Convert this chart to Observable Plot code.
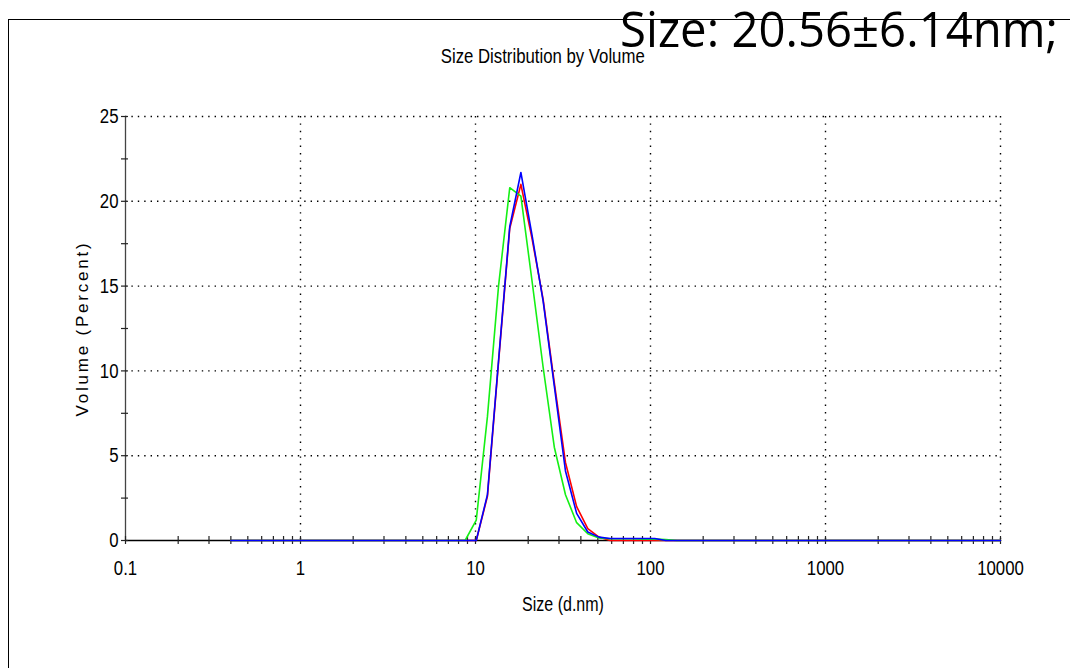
<!DOCTYPE html>
<html><head><meta charset="utf-8">
<script src="https://cdn.jsdelivr.net/npm/d3@7"></script>
<script src="https://cdn.jsdelivr.net/npm/@observablehq/plot@0.6"></script>
<style>
body{margin:0;background:#fff;}
#page{position:relative;width:1070px;height:668px;overflow:hidden;background:#fff;font-family:"Liberation Sans",Arial,sans-serif;}
#frameTop{position:absolute;left:8px;top:19px;width:1062px;height:0;border-top:1.5px solid #000;}
#frameLeft{position:absolute;left:8px;top:20px;width:0;height:648px;border-left:1px solid #000;}
#big{position:absolute;left:620px;top:3px;font-family:"Open Sans","Noto Sans",sans-serif;font-size:50px;line-height:1;white-space:nowrap;transform-origin:0 0;color:#000;}
#title{position:absolute;left:0;width:1086px;top:44px;text-align:center;font-size:20px;color:#000;line-height:1.2;}
#title span{display:inline-block;transform-origin:50% 50%;}
#chart{position:absolute;left:0;top:96px;}
</style></head>
<body>
<div id="page">
  <div id="frameTop"></div>
  <div id="frameLeft"></div>
  <div id="title"><span>Size Distribution by Volume</span></div>
  <div id="chart"></div>
  <div id="big">Size: 20.56±6.14nm;</div>
</div>
<script>
// Size bins (d.nm)
const sizes = [0.4, 0.4632, 0.5365, 0.6213, 0.7195, 0.8332, 0.9649, 1.117, 1.294, 1.499,
  1.736, 2.010, 2.328, 2.696, 3.122, 3.615, 4.187, 4.849, 5.615, 6.503,
  7.531, 8.721, 10.10, 11.70, 13.54, 15.69, 18.17, 21.04, 24.36, 28.21,
  32.67, 37.84, 43.82, 50.75, 58.77, 68.06, 78.82, 91.28, 105.7, 122.4,
  141.8, 164.2, 190.1, 220.2, 255.0, 295.3, 342.0, 396.1, 458.7, 531.2,
  615.1, 712.4, 825.0, 955.4, 1106, 1281, 1484, 1718, 1990, 2305,
  2669, 3091, 3580, 4145, 4801, 5560, 6439, 7456, 8635, 10000];
// Volume (%) per bin, three measurements
const redValues = [0,0,0,0,0,0,0,0,0,0, 0,0,0,0,0,0,0,0,0,0,
  0,0,0,2.6,10.5,18.4,21.0,17.8,14.2,9.3,
  4.6,2.0,0.7,0.2,0,0,0,0,0,0,
  0,0,0,0,0,0,0,0,0,0, 0,0,0,0,0,0,0,0,0,0, 0,0,0,0,0,0,0,0,0,0];
const greenValues = [0,0,0,0,0,0,0,0,0,0, 0,0,0,0,0,0,0,0,0,0,
  0,0,1.2,7.3,15.0,20.8,20.3,15.3,10.2,5.5,
  2.7,1.05,0.4,0.15,0.1,0.1,0.1,0.08,0.08,0.05,
  0,0,0,0,0,0,0,0,0,0, 0,0,0,0,0,0,0,0,0,0, 0,0,0,0,0,0,0,0,0,0];
const blueValues = [0,0,0,0,0,0,0,0,0,0, 0,0,0,0,0,0,0,0,0,0,
  0,0,0,2.7,10.6,18.5,21.7,18.0,14.1,9.1,
  4.1,1.6,0.5,0.2,0.12,0.12,0.12,0.12,0.12,0,
  0,0,0,0,0,0,0,0,0,0, 0,0,0,0,0,0,0,0,0,0, 0,0,0,0,0,0,0,0,0,0];
const seriesNames = ["Record 1", "Record 2", "Record 3"];
const seriesColors = ["#ff0000", "#14f014", "#0000ff"];
// Axes
const xMajorTicks = [0.1, 1, 10, 100, 1000, 10000];
const xMinorTicks = [0.2,0.3,0.4,0.5,0.6,0.7,0.8,0.9, 2,3,4,5,6,7,8,9,
  20,30,40,50,60,70,80,90, 200,300,400,500,600,700,800,900,
  2000,3000,4000,5000,6000,7000,8000,9000];
const yMajorTicks = [0, 5, 10, 15, 20, 25];
const yMinorTicks = [2.5, 7.5, 12.5, 17.5, 22.5];
const xLabel = "Size (d.nm)";
const yLabel = "Volume (Percent)";

const allSeries = [redValues, greenValues, blueValues];
const rows = [];
allSeries.forEach((vals, s) => sizes.forEach((x, i) => rows.push({series: seriesNames[s], size: x, v: vals[i]})));

const chart = Plot.plot({
  width: 1070, height: 560,
  marginLeft: 125, marginRight: 70, marginTop: 20, marginBottom: 116,
  x: {type: "log", domain: [0.1, 10000]},
  y: {domain: [0, 25]},
  color: {domain: seriesNames, range: seriesColors},
  style: {fontFamily: '"Liberation Sans",Arial,sans-serif', fontSize: "21px", color: "#000", background: "transparent", overflow: "visible"},
  marks: [
    Plot.ruleY(yMajorTicks.slice(1), {stroke: "#000", strokeWidth: 1.4, strokeDasharray: "1.4,5"}),
    Plot.ruleX(xMajorTicks.slice(1), {stroke: "#000", strokeWidth: 1.4, strokeDasharray: "1.4,6"}),
    Plot.ruleX([xMajorTicks[0]], {stroke: "#444", strokeWidth: 1.3}),
    Plot.ruleY([0], {stroke: "#000", strokeWidth: 1.3}),
    Plot.ruleX(xMajorTicks.concat(xMinorTicks), {y1: 0, y2: 0, insetTop: -4, insetBottom: -4, stroke: "#222", strokeWidth: 1.2}),
    Plot.ruleY(yMajorTicks.concat(yMinorTicks), {x1: xMajorTicks[0], x2: xMajorTicks[0], insetLeft: -4, insetRight: -3, stroke: "#222", strokeWidth: 1.2}),
    Plot.axisX({ticks: xMajorTicks, tickSize: 0, tickPadding: 20, tickFormat: d => String(d), label: null}),
    Plot.axisY({ticks: yMajorTicks, tickSize: 0, tickPadding: 7, label: null}),
    Plot.line(rows, {x: "size", y: "v", z: "series", stroke: "series", strokeWidth: 1.6}),
    Plot.text([xLabel], {frameAnchor: "bottom", dy: 70, fontSize: 20}),
    Plot.text([yLabel], {frameAnchor: "left", textAnchor: "middle", dx: -43, rotate: -90, fontSize: 17})
  ]
});
document.getElementById("chart").appendChild(chart);
// narrow look for chart texts (like Arial Narrow)
d3.select(chart).selectAll("text").each(function() {
  if (this.textContent === yLabel) {
    this.style.letterSpacing = "2.8px";
    return;
  }
  const t = this.getAttribute("transform") || "";
  const x = this.getAttribute("x");
  if (x !== null && !isNaN(+x)) this.setAttribute("x", +x / 0.8);
  this.setAttribute("transform", (t + " scale(0.8,1)").trim());
});
// title width
const ts = document.querySelector("#title span");
ts.style.transform = `scaleX(${204 / ts.getBoundingClientRect().width})`;
// fit big caption width
const big = document.getElementById("big");
const w = big.getBoundingClientRect().width;
big.style.transform = `scaleX(${438 / w})`;
</script>
</body></html>
